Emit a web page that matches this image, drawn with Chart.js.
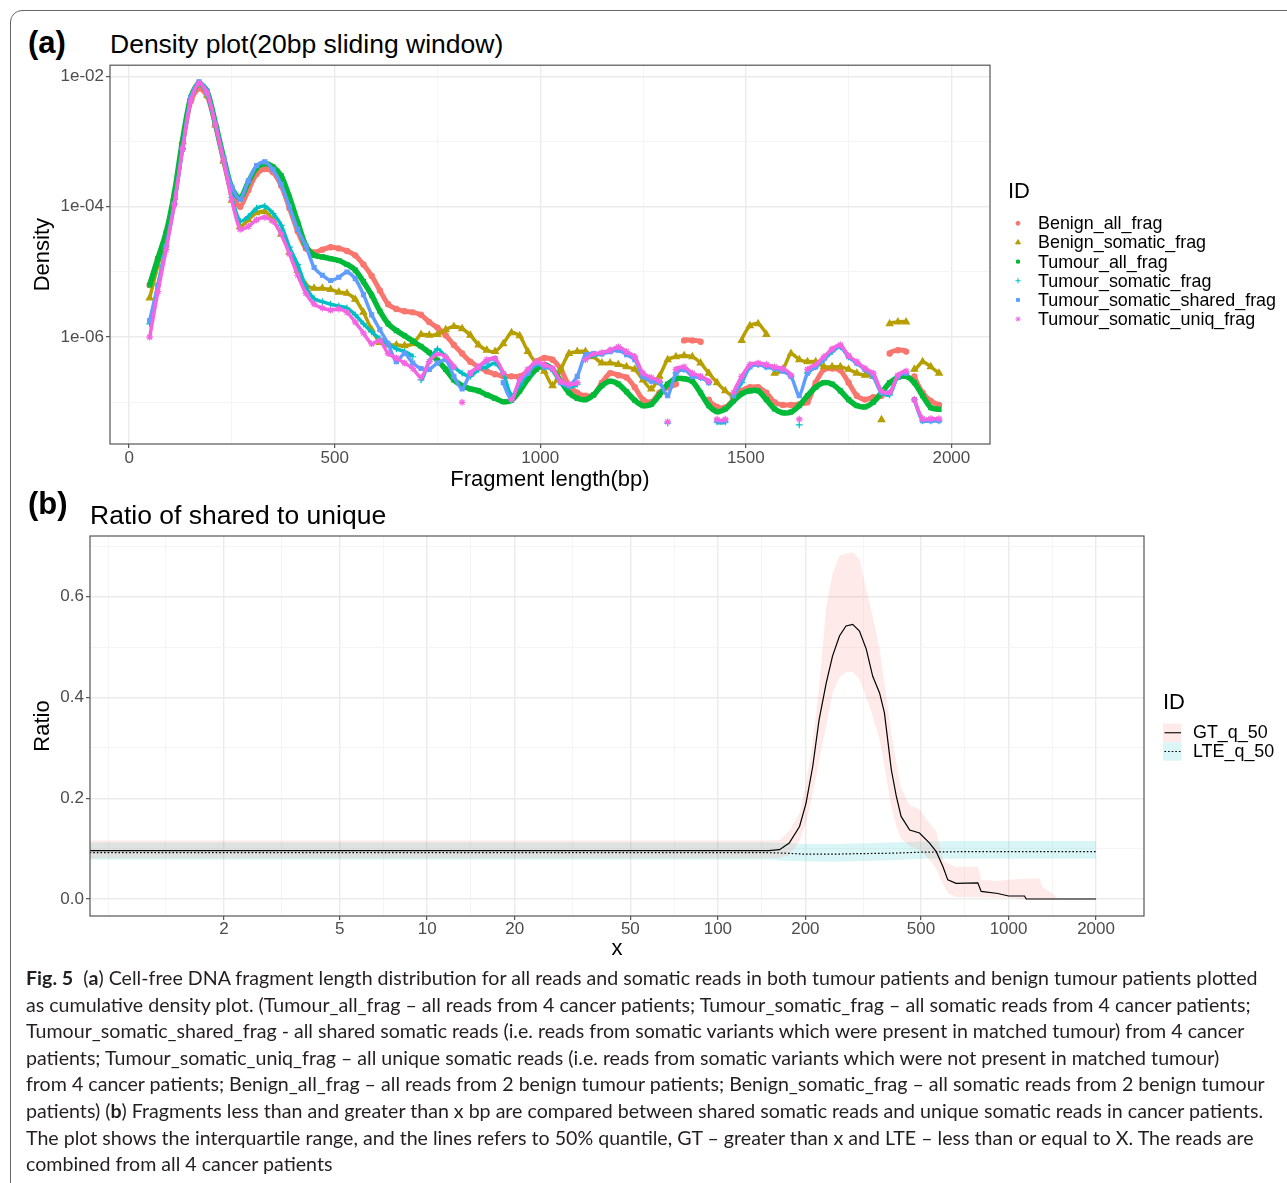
<!DOCTYPE html>
<html>
<head>
<meta charset="utf-8">
<title>Fig. 5</title>
<script src="https://cdn.jsdelivr.net/npm/chart.js@4.4.1/dist/chart.umd.min.js"></script>
<style>
  html, body { margin: 0; padding: 0; background: #fff; }
  body { width: 1287px; height: 1183px; position: relative; overflow: hidden; font-family: "Liberation Sans", Arial, sans-serif; }
  .frame { position: absolute; left: 10px; top: 10px; width: 1320px; height: 1220px; border: 1.5px solid #666; border-radius: 12px; }
  .tag { position: absolute; font-weight: bold; font-size: 31px; line-height: 31px; color: #000; }
  .ttl { position: absolute; font-size: 26.5px; line-height: 26.5px; color: #000; white-space: nowrap; }
  canvas { position: absolute; left: 0; }
  #caption { position: absolute; left: 26px; top: 965px; font-family: Lato, "Noto Sans", sans-serif; font-size: 18px; line-height: 26.6px; color: #231f20; white-space: nowrap; }
</style>
</head>
<body>
<div class="frame"></div>

<div class="tag" style="left:28px; top:27px">(a)</div>
<div class="ttl" style="left:110px; top:31px">Density plot(20bp sliding window)</div>
<canvas id="densityChart" width="1287" height="440" style="top:60px"></canvas>

<div class="tag" style="left:28px; top:488px">(b)</div>
<div class="ttl" style="left:90px; top:502px">Ratio of shared to unique</div>
<canvas id="ratioChart" width="1287" height="450" style="top:525px"></canvas>

<div id="caption"><span id="capLine1"><b>Fig. 5</b>&nbsp; (<b>a</b>) Cell-free DNA fragment length distribution for all reads and somatic reads in both tumour patients and benign tumour patients plotted</span><br>as cumulative density plot. (Tumour_all_frag – all reads from 4 cancer patients; Tumour_somatic_frag – all somatic reads from 4 cancer patients;<br>Tumour_somatic_shared_frag - all shared somatic reads (i.e. reads from somatic variants which were present in matched tumour) from 4 cancer<br>patients; Tumour_somatic_uniq_frag – all unique somatic reads (i.e. reads from somatic variants which were not present in matched tumour)<br>from 4 cancer patients; Benign_all_frag – all reads from 2 benign tumour patients; Benign_somatic_frag – all somatic reads from 2 benign tumour<br>patients) (<b>b</b>) Fragments less than and greater than x bp are compared between shared somatic reads and unique somatic reads in cancer patients.<br>The plot shows the interquartile range, and the lines refers to 50% quantile, GT – greater than x and LTE – less than or equal to X. The reads are<br>combined from all 4 cancer patients</div>

<script>
// --- (a) DENSITY, 20bp sliding window ---
const fragLen = [
  50, 70, 90, 110, 130, 150, 170, 190, 210, 230,
  250, 270, 290, 310, 330, 350, 370, 390, 410, 430,
  450, 470, 490, 510, 530, 550, 570, 590, 610, 630,
  650, 670, 690, 710, 730, 750, 770, 790, 810, 830,
  850, 870, 890, 910, 930, 950, 970, 990, 1010, 1030,
  1050, 1070, 1090, 1110, 1130, 1150, 1170, 1190, 1210, 1230,
  1250, 1270, 1290, 1310, 1330, 1350, 1370, 1390, 1410, 1430,
  1450, 1470, 1490, 1510, 1530, 1550, 1570, 1590, 1610, 1630,
  1650, 1670, 1690, 1710, 1730, 1750, 1770, 1790, 1810, 1830,
  1850, 1870, 1890, 1910, 1930, 1950, 1970
];

const benignAll = [
  6.3e-6, 1.6e-5, 3.8e-5, 1.4e-4, 9.5e-4, 4.2e-3, 6.6e-3, 5.0e-3, 1.8e-3, 5.0e-4,
  1.6e-4, 1.0e-4, 1.8e-4, 3.2e-4, 3.8e-4, 3.4e-4, 2.1e-4, 9.5e-5, 4.2e-5, 2.3e-5,
  2.0e-5, 2.2e-5, 2.4e-5, 2.3e-5, 2.1e-5, 1.8e-5, 1.3e-5, 8.7e-6, 5.2e-6, 3.2e-6,
  2.7e-6, 2.5e-6, 2.4e-6, 2.2e-6, 1.7e-6, 1.4e-6, 1.07e-6, 7.6e-7, 5.6e-7, 4.2e-7,
  3.5e-7, 3.0e-7, 2.7e-7, 2.5e-7, 2.5e-7, 2.5e-7, 3.0e-7, 4.2e-7, 4.8e-7, 4.5e-7,
  3.2e-7, 1.8e-7, 1.4e-7, 1.26e-7, 1.3e-7, 2.0e-7, 2.8e-7, 2.6e-7, 2.4e-7, 1.7e-7,
  1.1e-7, 1.0e-7, 1.4e-7, 1.7e-7, 1.9e-7, 8.9e-7, 8.9e-7, 8.5e-7, 1.1e-7, 8.5e-8,
  8.3e-8, 1.1e-7, 1.5e-7, 1.7e-7, 1.7e-7, 1.4e-7, 1.0e-7, 9.1e-8, 9.1e-8, 9.3e-8,
  1.0e-7, 2.0e-7, 3.2e-7, 3.3e-7, 3.1e-7, 2.0e-7, 1.26e-7, 1.1e-7, 1.2e-7, 1.26e-7,
  5.6e-7, 6.3e-7, 6.0e-7, 2.5e-7, 1.4e-7, 1.05e-7, 9.1e-8
];

const benignSomatic = [
  4.0e-6, 1.26e-5, 3.5e-5, 1.4e-4, 1.0e-3, 4.7e-3, 7.6e-3, 5.2e-3, 1.8e-3, 5.0e-4,
  1.26e-4, 5.0e-5, 6.3e-5, 8.1e-5, 8.5e-5, 6.3e-5, 3.8e-5, 2.0e-5, 1.05e-5, 6.3e-6,
  5.6e-6, 5.6e-6, 5.4e-6, 4.9e-6, 4.7e-6, 3.8e-6, 2.4e-6, 1.3e-6, 8.3e-7, 7.6e-7,
  7.6e-7, 7.4e-7, 7.9e-7, 1.1e-6, 1.07e-6, 1.1e-6, 1.3e-6, 1.45e-6, 1.35e-6, 1.07e-6,
  7.6e-7, 6.3e-7, 6.0e-7, 7.9e-7, 1.17e-6, 1.05e-6, 6.0e-7, 4.0e-7, 3.0e-7, 1.8e-7,
  3.2e-7, 5.6e-7, 6.0e-7, 6.0e-7, 5.0e-7, 4.0e-7, 4.0e-7, 3.8e-7, 3.5e-7, 3.2e-7,
  2.2e-7, 1.6e-7, 2.5e-7, 4.5e-7, 5.0e-7, 5.2e-7, 5.0e-7, 4.0e-7, 2.8e-7, 2.0e-7,
  1.5e-7, 1.26e-7, 8.9e-7, 1.5e-6, 1.6e-6, 1.1e-6, 2.8e-7, 3.2e-7, 5.6e-7, 4.5e-7,
  4.2e-7, 4.2e-7, 3.5e-7, 3.5e-7, 3.5e-7, 3.2e-7, 2.8e-7, 2.6e-7, 2.5e-7, 5.4e-8,
  1.6e-6, 1.7e-6, 1.7e-6, 3.2e-7, 4.2e-7, 3.5e-7, 2.8e-7
];

const tumourAll = [
  6.3e-6, 1.6e-5, 4.0e-5, 1.6e-4, 1.05e-3, 4.8e-3, 7.9e-3, 5.9e-3, 1.9e-3, 5.6e-4,
  1.9e-4, 1.35e-4, 2.4e-4, 4.0e-4, 4.6e-4, 4.1e-4, 3.0e-4, 1.4e-4, 5.8e-5, 2.5e-5,
  1.8e-5, 1.7e-5, 1.6e-5, 1.5e-5, 1.3e-5, 1.07e-5, 7.1e-6, 4.4e-6, 2.5e-6, 1.6e-6,
  1.26e-6, 1.05e-6, 8.7e-7, 7.2e-7, 5.8e-7, 4.4e-7, 3.2e-7, 2.2e-7, 1.8e-7, 1.6e-7,
  1.5e-7, 1.3e-7, 1.15e-7, 1.02e-7, 1.07e-7, 1.5e-7, 2.3e-7, 3.2e-7, 3.8e-7, 3.2e-7,
  2.1e-7, 1.4e-7, 1.15e-7, 1.1e-7, 1.3e-7, 1.8e-7, 2.1e-7, 1.9e-7, 1.45e-7, 1.07e-7,
  8.9e-8, 9.3e-8, 1.3e-7, 1.9e-7, 2.3e-7, 2.3e-7, 2.1e-7, 1.4e-7, 8.9e-8, 7.2e-8,
  7.9e-8, 1.05e-7, 1.35e-7, 1.5e-7, 1.5e-7, 1.1e-7, 7.9e-8, 6.9e-8, 7.1e-8, 8.9e-8,
  1.26e-7, 1.7e-7, 2.0e-7, 1.9e-7, 1.5e-7, 1.1e-7, 8.9e-8, 8.5e-8, 1.0e-7, 1.4e-7,
  2.0e-7, 2.4e-7, 2.5e-7, 2.0e-7, 1.26e-7, 8.3e-8, 7.8e-8
];

const tumourSomatic = [
  1.6e-6, 6.3e-6, 2.5e-5, 1.1e-4, 7.9e-4, 4.5e-3, 7.9e-3, 5.2e-3, 1.8e-3, 5.0e-4,
  1.4e-4, 6.0e-5, 7.1e-5, 9.5e-5, 1.02e-4, 7.9e-5, 5.2e-5, 2.4e-5, 1.3e-5, 6.0e-6,
  3.9e-6, 3.5e-6, 3.2e-6, 3.0e-6, 2.8e-6, 2.2e-6, 1.6e-6, 1.2e-6, 9.5e-7, 7.9e-7,
  6.6e-7, 6.0e-7, 5.0e-7, 2.2e-7, 4.2e-7, 6.6e-7, 5.0e-7, 3.5e-7, 2.8e-7, 2.5e-7,
  3.2e-7, 3.5e-7, 4.0e-7, 2.8e-7, 1.26e-7, 1.8e-7, 2.8e-7, 3.8e-7, 3.5e-7, 3.2e-7,
  2.0e-7, 1.7e-7, 1.9e-7, 4.5e-7, 5.2e-7, 5.6e-7, 6.3e-7, 6.6e-7, 5.6e-7, 5.0e-7,
  2.5e-7, 2.2e-7, 2.0e-7, 4.8e-8, 2.8e-7, 3.2e-7, 2.6e-7, 2.4e-7, 2.0e-7, 5.0e-8,
  5.0e-8, 1.26e-7, 2.0e-7, 3.5e-7, 3.8e-7, 3.5e-7, 3.3e-7, 3.2e-7, 2.5e-7, 4.5e-8,
  2.8e-7, 3.5e-7, 4.5e-7, 6.0e-7, 7.1e-7, 5.0e-7, 4.0e-7, 3.2e-7, 2.5e-7, 1.4e-7,
  1.3e-7, 2.5e-7, 2.8e-7, 1.1e-7, 5.2e-8, 5.2e-8, 5.2e-8
];

const tumourShared = [
  1.8e-6, 6.3e-6, 2.5e-5, 1.1e-4, 7.9e-4, 4.7e-3, 8.3e-3, 5.9e-3, 1.9e-3, 5.6e-4,
  2.0e-4, 1.3e-4, 2.5e-4, 4.3e-4, 4.9e-4, 3.7e-4, 2.2e-4, 1.0e-4, 4.5e-5, 2.5e-5,
  1.17e-5, 8.9e-6, 7.4e-6, 8.3e-6, 1.0e-5, 7.9e-6, 4.5e-6, 2.2e-6, 1.3e-6, 7.9e-7,
  4.2e-7, 5.6e-7, 4.0e-7, 3.3e-7, 3.2e-7, 4.0e-7, 4.5e-7, 2.5e-7, 1.6e-7, 2.8e-7,
  3.5e-7, 4.2e-7, 4.7e-7, 2.0e-7, 1.1e-7, 2.2e-7, 2.8e-7, 4.0e-7, 3.5e-7, 3.2e-7,
  2.0e-7, 1.8e-7, 2.5e-7, 5.4e-7, 5.6e-7, 5.5e-7, 6.0e-7, 6.3e-7, 5.4e-7, 4.5e-7,
  2.5e-7, 2.1e-7, 2.0e-7, 1.26e-7, 2.8e-7, 3.2e-7, 2.5e-7, 2.4e-7, 2.0e-7, 5.2e-8,
  5.2e-8, 1.26e-7, 2.2e-7, 3.5e-7, 3.8e-7, 3.5e-7, 3.3e-7, 3.0e-7, 2.5e-7, 1.26e-7,
  2.8e-7, 3.5e-7, 4.7e-7, 6.3e-7, 7.2e-7, 5.0e-7, 4.0e-7, 3.2e-7, 2.5e-7, 1.4e-7,
  1.4e-7, 2.5e-7, 2.8e-7, 1.1e-7, 5.2e-8, 5.2e-8, 5.2e-8
];

const tumourUniq = [
  1.0e-6, 5.0e-6, 2.2e-5, 1.1e-4, 7.6e-4, 4.2e-3, 7.9e-3, 5.5e-3, 1.8e-3, 5.0e-4,
  1.26e-4, 4.5e-5, 5.0e-5, 6.3e-5, 6.9e-5, 6.0e-5, 3.8e-5, 1.9e-5, 8.9e-6, 4.7e-6,
  3.2e-6, 2.8e-6, 2.6e-6, 2.7e-6, 2.4e-6, 1.7e-6, 1.15e-6, 7.9e-7, 8.9e-7, 5.6e-7,
  4.8e-7, 4.0e-7, 3.3e-7, 2.4e-7, 4.2e-7, 5.5e-7, 5.0e-7, 3.5e-7, 1.0e-7, 2.8e-7,
  3.5e-7, 4.5e-7, 4.7e-7, 2.8e-7, 1.1e-7, 2.2e-7, 3.2e-7, 4.2e-7, 3.8e-7, 3.3e-7,
  2.1e-7, 1.9e-7, 2.0e-7, 4.5e-7, 5.5e-7, 5.8e-7, 6.3e-7, 7.1e-7, 6.0e-7, 5.0e-7,
  2.8e-7, 2.4e-7, 2.1e-7, 5.0e-8, 3.2e-7, 3.5e-7, 2.8e-7, 2.5e-7, 2.1e-7, 5.5e-8,
  5.5e-8, 1.4e-7, 2.5e-7, 3.8e-7, 4.0e-7, 3.8e-7, 3.5e-7, 3.3e-7, 2.6e-7, 5.5e-8,
  3.2e-7, 3.8e-7, 5.0e-7, 6.6e-7, 7.6e-7, 5.2e-7, 4.2e-7, 3.3e-7, 2.8e-7, 1.5e-7,
  1.4e-7, 2.6e-7, 3.0e-7, 1.1e-7, 5.6e-8, 5.6e-8, 5.6e-8
];

const seriesNames = ['Benign_all_frag', 'Benign_somatic_frag', 'Tumour_all_frag',
  'Tumour_somatic_frag', 'Tumour_somatic_shared_frag', 'Tumour_somatic_uniq_frag'];

const densityTicks = [1e-7, 1e-6, 1e-5, 1e-4, 1e-3, 1e-2];
const densityLabels = ['', '1e-06', '', '1e-04', '', '1e-02'];
const fragTicks = [0, 250, 500, 750, 1000, 1250, 1500, 1750, 2000];
const fragLabels = ['0', '', '500', '', '1000', '', '1500', '', '2000'];

// --- (b) RATIO OF SHARED TO UNIQUE ---
const gtX = [
  0.69, 1, 2, 5, 10, 20, 50, 100, 150,
  163, 176, 191, 201, 212, 223, 236, 248, 262, 276,
  291, 307, 324, 341, 360, 374, 384, 395, 411, 427,
  457, 494, 535, 564, 595, 618, 660, 784, 805, 919,
  1000, 1135, 1150, 1276, 1310, 1418, 1480, 2000
];
const gtMedian = [
  0.096, 0.096, 0.096, 0.096, 0.096, 0.096, 0.096, 0.096, 0.096,
  0.098, 0.111, 0.144, 0.190, 0.263, 0.356, 0.429, 0.482, 0.522, 0.542,
  0.545, 0.532, 0.496, 0.442, 0.409, 0.370, 0.316, 0.257, 0.204, 0.164,
  0.137, 0.131, 0.111, 0.094, 0.064, 0.038, 0.031, 0.032, 0.015, 0.011,
  0.006, 0.006, 0, 0, 0, 0, 0, 0
];
const gtLow = [
  0.081, 0.081, 0.081, 0.081, 0.081, 0.081, 0.081, 0.081, 0.081,
  0.082, 0.087, 0.115, 0.150, 0.210, 0.275, 0.345, 0.409, 0.440, 0.450,
  0.451, 0.436, 0.400, 0.363, 0.316, 0.265, 0.225, 0.184, 0.144, 0.120,
  0.105, 0.098, 0.078, 0.060, 0.030, 0.012, 0.004, 0.004, 0.004, 0.003,
  0.003, 0, 0, 0, 0, 0, 0, 0
];
const gtHigh = [
  0.116, 0.116, 0.116, 0.116, 0.116, 0.116, 0.116, 0.116, 0.116,
  0.117, 0.135, 0.170, 0.230, 0.310, 0.420, 0.580, 0.645, 0.681, 0.686,
  0.688, 0.675, 0.615, 0.560, 0.496, 0.430, 0.380, 0.330, 0.270, 0.220,
  0.186, 0.178, 0.150, 0.135, 0.078, 0.070, 0.064, 0.064, 0.038, 0.036,
  0.038, 0.040, 0.040, 0.041, 0.024, 0.011, 0, 0
];

const lteX = [0.69, 1, 2, 5, 10, 20, 50, 100, 150, 170, 200, 250, 300, 400, 500, 700, 1000, 2000];
const lteMedian = [0.092, 0.092, 0.092, 0.092, 0.092, 0.092, 0.092, 0.092, 0.092, 0.091, 0.089, 0.089, 0.090, 0.091, 0.093, 0.094, 0.094, 0.094];
const lteLow = [0.078, 0.078, 0.078, 0.078, 0.078, 0.078, 0.078, 0.078, 0.078, 0.076, 0.075, 0.074, 0.075, 0.077, 0.080, 0.080, 0.080, 0.080];
const lteHigh = [0.112, 0.112, 0.112, 0.112, 0.112, 0.112, 0.112, 0.112, 0.112, 0.111, 0.109, 0.109, 0.110, 0.112, 0.114, 0.115, 0.115, 0.115];

const ratioNames = ['GT_q_50', 'LTE_q_50'];
const cutTicks = [0.8, 1.26, 2, 3.16, 5, 7.07, 10, 14.1, 20, 31.6, 50, 70.7, 100, 141, 200, 316, 500, 707, 1000, 1414, 2000];
const cutLabels = ['', '', '2', '', '5', '', '10', '', '20', '', '50', '', '100', '', '200', '', '500', '', '1000', '', '2000'];
const ratioTicks = [0, 0.1, 0.2, 0.3, 0.4, 0.5, 0.6, 0.7];
const ratioLabels = ['0.0', '', '0.2', '', '0.4', '', '0.6', ''];

// --- STYLE ---
const FONT = '"Liberation Sans", Arial, Helvetica, sans-serif';
Chart.defaults.font.family = FONT;

const seriesStyle = [
  { color: '#F8766D', shape: 'circle',   r: 2.6, line: 5 },
  { color: '#B79F00', shape: 'triangle', r: 3.8, line: 3.5 },
  { color: '#00BA38', shape: 'rect',     r: 2.8, line: 5.5 },
  { color: '#00BFC4', shape: 'cross',    r: 3.4, line: 3.5 },
  { color: '#619CFF', shape: 'rect',     r: 2.8, line: 3.5 },
  { color: '#F564E3', shape: 'star',     r: 3.4, line: 3.5 }
];
const ribbonStyle = [
  { fill: 'rgba(248,118,109,0.15)', dash: [] },
  { fill: 'rgba(0,191,196,0.15)', dash: [1.6, 2] }
];

function gridStyle(labels) {
  return {
    color: c => labels[c.index] ? '#EBEBEB' : '#F3F3F3',
    lineWidth: c => labels[c.index] ? 1.4 : 0.8,
    tickColor: c => labels[c.index] ? '#333333' : 'rgba(0,0,0,0)',
    tickWidth: 1,
    tickLength: 4,
    drawTicks: true
  };
}

// hide the joining stroke where the series jumps (tail part is a scatter)
const jumpBreak = {
  borderColor: c => (c.p0.parsed.x > 600 &&
    Math.abs(Math.log10(c.p1.parsed.y / c.p0.parsed.y)) > 0.35) ? 'rgba(0,0,0,0)' : undefined
};

const panelFrame = {
  id: 'panelFrame',
  afterDraw(chart) {
    const { ctx, chartArea: a } = chart;
    ctx.save();
    ctx.strokeStyle = '#555';
    ctx.lineWidth = 1.2;
    ctx.strokeRect(a.left, a.top, a.right - a.left, a.bottom - a.top);
    ctx.restore();
  }
};

const densityLegend = {
  id: 'densityLegend',
  afterDraw(chart) {
    const ctx = chart.ctx;
    ctx.save();
    ctx.textBaseline = 'middle';
    ctx.textAlign = 'left';
    ctx.fillStyle = '#000';
    ctx.font = `22px ${FONT}`;
    ctx.fillText('ID', 1008, 132);
    ctx.font = `17.9px ${FONT}`;
    seriesNames.forEach((name, i) => {
      const st = seriesStyle[i];
      const y = 163.3 + i * 19.15;
      ctx.fillStyle = st.color;
      ctx.strokeStyle = st.color;
      Chart.helpers.drawPoint(ctx, { pointStyle: st.shape, radius: st.r * 0.75, borderWidth: 1, rotation: 0 }, 1018, y);
      ctx.fillStyle = '#000';
      ctx.fillText(name, 1038, y + 1);
    });
    ctx.restore();
  }
};

const ratioLegend = {
  id: 'ratioLegend',
  afterDraw(chart) {
    const ctx = chart.ctx;
    ctx.save();
    ctx.textBaseline = 'middle';
    ctx.textAlign = 'left';
    ctx.fillStyle = '#000';
    ctx.font = `22px ${FONT}`;
    ctx.fillText('ID', 1163, 178);
    ctx.font = `17.9px ${FONT}`;
    ratioNames.forEach((name, i) => {
      const st = ribbonStyle[i];
      const top = 198.5 + i * 18.8;
      ctx.fillStyle = st.fill;
      ctx.fillRect(1163, top, 18.5, 18.5);
      ctx.strokeStyle = '#000';
      ctx.lineWidth = 1.1;
      ctx.setLineDash(st.dash);
      ctx.beginPath();
      ctx.moveTo(1164.5, top + 9.25);
      ctx.lineTo(1181, top + 9.25);
      ctx.stroke();
      ctx.setLineDash([]);
      ctx.fillStyle = '#000';
      ctx.fillText(name, 1193, top + 10);
    });
    ctx.restore();
  }
};

// --- CHART (a) ---
const densitySeries = [benignAll, benignSomatic, tumourAll, tumourSomatic, tumourShared, tumourUniq];
const drawOrder = [5, 4, 3, 2, 1, 0];

new Chart(document.getElementById('densityChart'), {
  type: 'scatter',
  data: {
    datasets: densitySeries.map((vals, i) => ({
      label: seriesNames[i],
      data: fragLen.map((x, k) => ({ x, y: vals[k] })),
      showLine: true,
      tension: 0.25,
      borderColor: seriesStyle[i].color,
      borderWidth: seriesStyle[i].line,
      pointStyle: seriesStyle[i].shape,
      pointRadius: seriesStyle[i].r,
      pointBackgroundColor: seriesStyle[i].color,
      pointBorderColor: seriesStyle[i].color,
      pointBorderWidth: 1.2,
      segment: jumpBreak,
      order: drawOrder[i]
    }))
  },
  options: {
    responsive: false,
    animation: false,
    events: [],
    layout: { padding: { left: 30, right: 297, top: 4, bottom: 0 } },
    plugins: { legend: { display: false }, tooltip: { enabled: false } },
    scales: {
      x: {
        type: 'linear', min: -46.5, max: 2094,
        afterBuildTicks: s => { s.ticks = fragTicks.map(v => ({ value: v })); },
        afterFit: s => { s.height = 56; s.paddingLeft = 0; s.paddingRight = 0; },
        ticks: { callback: (v, i) => fragLabels[i], autoSkip: false, maxRotation: 0, padding: 1.5,
                 color: '#4D4D4D', font: { size: 17, lineHeight: 1 } },
        grid: gridStyle(fragLabels),
        border: { display: false },
        title: { display: true, text: 'Fragment length(bp)', color: '#000', font: { size: 22 }, padding: { top: 0, bottom: 7 } }
      },
      y: {
        type: 'logarithmic', min: 2.29e-8, max: 0.0149,
        afterBuildTicks: s => { s.ticks = densityTicks.map(v => ({ value: v })); },
        afterFit: s => { s.width = 80; s.paddingTop = 0; s.paddingBottom = 0; },
        ticks: { callback: (v, i) => densityLabels[i], autoSkip: false, padding: 2,
                 color: '#4D4D4D', font: { size: 17 } },
        grid: gridStyle(densityLabels),
        border: { display: false },
        title: { display: true, text: 'Density', color: '#000', font: { size: 22 }, padding: { top: 0, bottom: 0 } }
      }
    }
  },
  plugins: [panelFrame, densityLegend]
});

// --- CHART (b) ---
const pts = (xs, ys) => xs.map((x, k) => ({ x, y: ys[k] }));
const band = (data, fill, bg) => ({ data, fill, backgroundColor: bg, borderWidth: 0, pointRadius: 0, showLine: true, order: 2 });

new Chart(document.getElementById('ratioChart'), {
  type: 'scatter',
  data: {
    datasets: [
      band(pts(gtX, gtHigh), '+1', ribbonStyle[0].fill),
      band(pts(gtX, gtLow), false, 'transparent'),
      band(pts(lteX, lteHigh), '+1', ribbonStyle[1].fill),
      band(pts(lteX, lteLow), false, 'transparent'),
      { label: ratioNames[0], data: pts(gtX, gtMedian), showLine: true, borderColor: '#000', borderWidth: 1.2, pointRadius: 0, order: 0 },
      { label: ratioNames[1], data: pts(lteX, lteMedian), showLine: true, borderColor: '#000', borderWidth: 1.2,
        borderDash: ribbonStyle[1].dash, pointRadius: 0, order: 0 }
    ]
  },
  options: {
    responsive: false,
    animation: false,
    events: [],
    layout: { padding: { left: 30, right: 143, top: 11, bottom: 0 } },
    plugins: { legend: { display: false }, tooltip: { enabled: false } },
    scales: {
      x: {
        type: 'logarithmic', min: 0.692, max: 2924,
        afterBuildTicks: s => { s.ticks = cutTicks.map(v => ({ value: v })); },
        afterFit: s => { s.height = 59; s.paddingLeft = 0; s.paddingRight = 0; },
        ticks: { callback: (v, i) => cutLabels[i], autoSkip: false, maxRotation: 0, padding: 0.5,
                 color: '#4D4D4D', font: { size: 17, lineHeight: 1 } },
        grid: gridStyle(cutLabels),
        border: { display: false },
        title: { display: true, text: 'x', color: '#000', font: { size: 22 }, padding: { top: 0, bottom: 12.8 } }
      },
      y: {
        type: 'linear', min: -0.0337, max: 0.7205,
        afterBuildTicks: s => { s.ticks = ratioTicks.map(v => ({ value: v })); },
        afterFit: s => { s.width = 60; s.paddingTop = 0; s.paddingBottom = 0; },
        ticks: { callback: (v, i) => ratioLabels[i], autoSkip: false, padding: 2,
                 color: '#4D4D4D', font: { size: 17 } },
        grid: gridStyle(ratioLabels),
        border: { display: false },
        title: { display: true, text: 'Ratio', color: '#000', font: { size: 22 }, padding: { top: 0, bottom: 0 } }
      }
    }
  },
  plugins: [panelFrame, ratioLegend]
});

// --- CAPTION: fit the first line to the printed width ---
const cap = document.getElementById('caption');
const w1 = document.getElementById('capLine1').getBoundingClientRect().width;
if (w1 > 0) cap.style.fontSize = (18 * 1232 / w1).toFixed(2) + 'px';
</script>
</body>
</html>
